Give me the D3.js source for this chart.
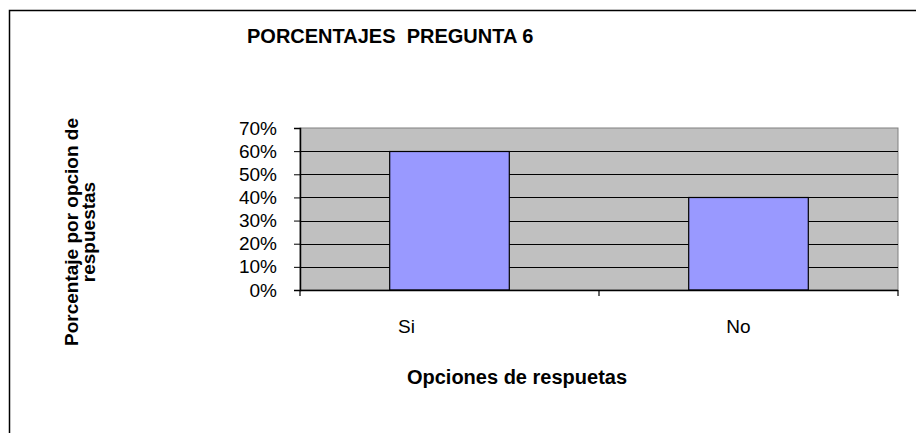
<!DOCTYPE html>
<html>
<head>
<meta charset="utf-8">
<script src="https://cdn.jsdelivr.net/npm/d3@7"></script>
<style>
  body { margin: 0; background: #fff; }
  text { font-family: "Liberation Sans", Arial, sans-serif; fill: #000; }
</style>
</head>
<body>
<div id="chart"></div>
<script>
// chart values
let categories = ["Si", "No"]
let values = [0.60, 0.40]
let yTicks = [0, 0.1, 0.2, 0.3, 0.4, 0.5, 0.6, 0.7]
let titleText = "PORCENTAJES  PREGUNTA 6"
let xTitle = "Opciones de respuetas"
let yTitleLines = ["Porcentaje por opcion de", "respuestas"]

let width = 916
let height = 433
let plot = {left: 300, right: 898, top: 128, bottom: 290}
let labelNudge = [-43, -10]

let svg = d3.select("#chart").append("svg")
  .attr("width", width)
  .attr("height", height)

// outer chart frame
svg.append("rect")
  .attr("x", 9.5).attr("y", 10.5)
  .attr("width", width + 20).attr("height", height + 20)
  .attr("fill", "#fff")
  .attr("stroke", "#000")
  .attr("stroke-width", 1.5)

let x = d3.scaleBand()
  .domain(categories)
  .range([plot.left, plot.right])

let y = d3.scaleLinear()
  .domain([0, 0.7])
  .range([plot.bottom, plot.top])

// plot area background
svg.append("rect")
  .attr("x", plot.left).attr("y", plot.top)
  .attr("width", plot.right - plot.left)
  .attr("height", plot.bottom - plot.top)
  .attr("fill", "#c0c0c0")
  .attr("stroke", "#808080")

// gridlines
svg.append("g")
  .selectAll("line")
  .data(yTicks.filter(d => d > 0 && d < 0.7))
  .join("line")
  .attr("x1", plot.left).attr("x2", plot.right)
  .attr("y1", d => Math.round(y(d)) + 0.5)
  .attr("y2", d => Math.round(y(d)) + 0.5)
  .attr("stroke", "#000")

// bars (Excel gap width 150%)
let barW = x.bandwidth() / 2.5
svg.append("g")
  .selectAll("rect")
  .data(categories)
  .join("rect")
  .attr("x", d => x(d) + (x.bandwidth() - barW) / 2)
  .attr("y", (d, i) => Math.round(y(values[i])) + 0.5)
  .attr("width", barW)
  .attr("height", (d, i) => y(0) - Math.round(y(values[i])) - 0.5)
  .attr("fill", "#9999ff")
  .attr("stroke", "#000")
  .attr("stroke-width", 1.2)

// y axis
let yAxis = svg.append("g")
  .attr("transform", `translate(${plot.left},0)`)
  .call(d3.axisLeft(y).tickValues(yTicks).tickFormat(d3.format(".0%")).tickSize(6).tickPadding(17))
yAxis.select(".domain").attr("stroke", "#000").attr("stroke-width", 1.5)
yAxis.selectAll("text").style("font-size", "19px").attr("fill", "#000").attr("font-family", null)

// x axis
let xAxis = svg.append("g")
  .attr("transform", `translate(0,${plot.bottom})`)
let xLine = d3.scaleLinear().domain([0, categories.length]).range([plot.left, plot.right])
xAxis.append("line")
  .attr("x1", plot.left).attr("x2", plot.right)
  .attr("y1", 0.5).attr("y2", 0.5)
  .attr("stroke", "#000").attr("stroke-width", 1.5)
xAxis.selectAll("line.tick")
  .data(d3.range(categories.length + 1))
  .join("line")
  .attr("class", "tick")
  .attr("x1", d => xLine(d)).attr("x2", d => xLine(d))
  .attr("y1", 0).attr("y2", 6)
  .attr("stroke", "#000").attr("stroke-width", 1.2)
xAxis.selectAll("text")
  .data(categories)
  .join("text")
  .attr("x", (d, i) => x(d) + x.bandwidth() / 2 + labelNudge[i])
  .attr("y", 43)
  .attr("text-anchor", "middle")
  .style("font-size", "19px")
  .text(d => d)

// titles
svg.append("text")
  .attr("x", 247).attr("y", 43)
  .style("font-size", "20px").style("font-weight", "bold")
  .style("white-space", "pre")
  .text(titleText)

svg.append("text")
  .attr("x", 517).attr("y", 384)
  .attr("text-anchor", "middle")
  .style("font-size", "20px").style("font-weight", "bold")
  .text(xTitle)

svg.append("text")
  .attr("transform", "translate(78,232) rotate(-90)")
  .attr("text-anchor", "middle")
  .style("font-size", "19px").style("font-weight", "bold")
  .selectAll("tspan")
  .data(yTitleLines)
  .join("tspan")
  .attr("x", 0)
  .attr("dy", (d, i) => i ? 17 : 0)
  .text(d => d)
</script>
</body>
</html>
